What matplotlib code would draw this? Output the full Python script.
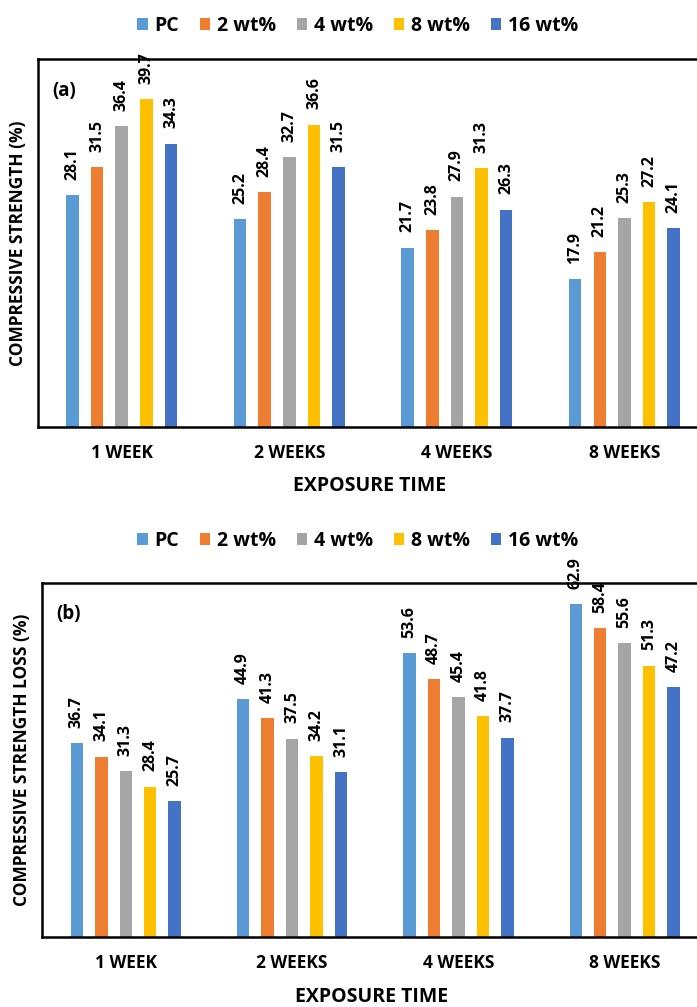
import numpy as np
import matplotlib as mpl
import matplotlib.pyplot as plt

weeks = ['1 WEEK', '2 WEEKS', '4 WEEKS', '8 WEEKS']
series = ['PC', '2 wt%', '4 wt%', '8 wt%', '16 wt%']
colors = ['#5B9BD5', '#ED7D31', '#A5A5A5', '#FFC000', '#4472C4']

strength = [
    [28.1, 25.2, 21.7, 17.9],
    [31.5, 28.4, 23.8, 21.2],
    [36.4, 32.7, 27.9, 25.3],
    [39.7, 36.6, 31.3, 27.2],
    [34.3, 31.5, 26.3, 24.1],
]
loss = [
    [36.7, 44.9, 53.6, 62.9],
    [34.1, 41.3, 48.7, 58.4],
    [31.3, 37.5, 45.4, 55.6],
    [28.4, 34.2, 41.8, 51.3],
    [25.7, 31.1, 37.7, 47.2],
]

mpl.rcParams['font.family'] = ['Open Sans', 'DejaVu Sans']

fig = plt.figure(figsize=(6.97, 10.07), dpi=100)
ax_a = fig.add_axes([0.0545, 0.576, 0.952, 0.365])
ax_b = fig.add_axes([0.060, 0.0695, 0.946, 0.3515])


def panel(ax, data, ymax, ylabel, tag, xlo, leg_xy, xpad):
    x = np.arange(len(weeks))
    step = 0.147
    for i, (vals, c) in enumerate(zip(data, colors)):
        pos = x + (i - 2) * step
        ax.bar(pos, vals, width=0.075, color=c, label=series[i])
        for p, v in zip(pos, vals):
            ax.annotate('%.1f' % v, (p, v), xytext=(0, 11), textcoords='offset points',
                        rotation=90, ha='center', va='bottom', fontsize=11.5,
                        fontweight='bold', annotation_clip=False)
    ax.set_ylim(0, ymax)
    ax.set_xlim(xlo, 3.46)
    ax.set_yticks([])
    ax.set_xticks(x)
    ax.set_xticklabels(weeks, fontsize=12.5, fontweight='bold')
    ax.tick_params(axis='x', length=0, pad=12)
    for s in ax.spines.values():
        s.set_linewidth(1.8)
    ax.set_ylabel(ylabel, fontsize=12.5, fontweight='bold', labelpad=8)
    ax.set_xlabel('EXPOSURE TIME', fontsize=14, fontweight='bold', labelpad=xpad)
    ax.text(0.022, 0.94, tag, transform=ax.transAxes, fontsize=13.5,
            fontweight='bold', va='top')
    ax.legend(loc='center', bbox_to_anchor=leg_xy, ncol=5,
              frameon=False, handlelength=0.55, handleheight=0.55,
              handletextpad=0.35, columnspacing=1.05, borderaxespad=0,
              prop={'weight': 'bold', 'size': 14})


panel(ax_a, strength, 44.5, 'COMPRESSIVE STRENGTH (%)', '(a)', -0.5, (0.482, 1.092), 10)
panel(ax_b, loss, 66.9, 'COMPRESSIVE STRENGTH LOSS (%)', '(b)', -0.505, (0.479, 1.119), 11)

fig.savefig('out.png', dpi=100)
